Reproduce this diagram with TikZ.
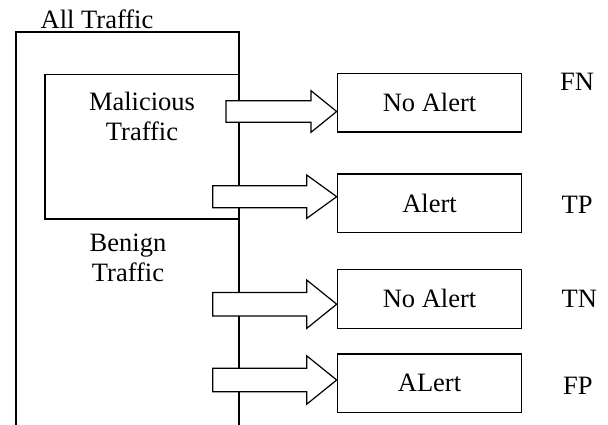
\documentclass[tikz,border=0pt]{standalone}
\usepackage{fontspec}
\setmainfont{Liberation Serif}
\usetikzlibrary{calc}
\tikzset{
  box/.style={draw, line width=1.2pt, minimum width=184.4pt, minimum height=58.5pt, inner sep=0pt},
  blk/.style={draw, fill=white, line width=1.2pt, line join=miter},
  region/.style={line width=1.2pt},
  txt/.style={inner sep=0pt}
}
% tail x, centre coordinate, head base x, shaft half, head half, box name
\newcommand\blockarrow[6]{%
  \draw[blk] (#1,{#2-#4}) -- (#3,{#2-#4}) -- (#3,{#2-#5}) -- (#6.west |- 0,#2)
    -- (#3,{#2+#5}) -- (#3,{#2+#4}) -- (#1,{#2+#4}) -- cycle;}
\begin{document}
\begin{tikzpicture}[x=1pt,y=-1pt,font=\fontsize{26.5}{30}\selectfont]
\useasboundingbox (0,0) rectangle (608,425);
% regions
\draw[region] (16,425) -- (16,32) -- (239,32) -- (239,425);
\draw[region] (239,74.3) -- (45,74.3) -- (45,219) -- (239,219);
\node[txt, anchor=base] (all) at (97,28.3) {All Traffic};
\node[txt, anchor=north, align=center] (mal) at (142,91.9) {Malicious\\Traffic};
\node[txt, anchor=north, align=center] (ben) at (128,234.2) {Benign\\Traffic};
% outcome boxes
\node[box] (b1) at (429.5,102.8) {No Alert};
\node[box] (b2) at (429.5,203.2) {Alert};
\node[box] (b3) at (429.5,298.9) {No Alert};
\node[box] (b4) at (429.5,383.2) {ALert};
% labels
\node[txt, anchor=base west] (fn) at (560,90.7) {FN};
\node[txt, anchor=base west] (tp) at (561.5,214) {TP};
\node[txt, anchor=base west] (tn) at (561.5,307.3) {TN};
\node[txt, anchor=base west] (fp) at (563,394) {FP};
% block arrows
\blockarrow{226}{111.5}{311}{10.7}{20.8}{b1}
\blockarrow{212.7}{196.7}{306.7}{11}{21.7}{b2}
\blockarrow{212.7}{304.2}{306.7}{11.7}{24.2}{b3}
\blockarrow{212.7}{380}{306.7}{11.7}{24.2}{b4}
\end{tikzpicture}
\end{document}
